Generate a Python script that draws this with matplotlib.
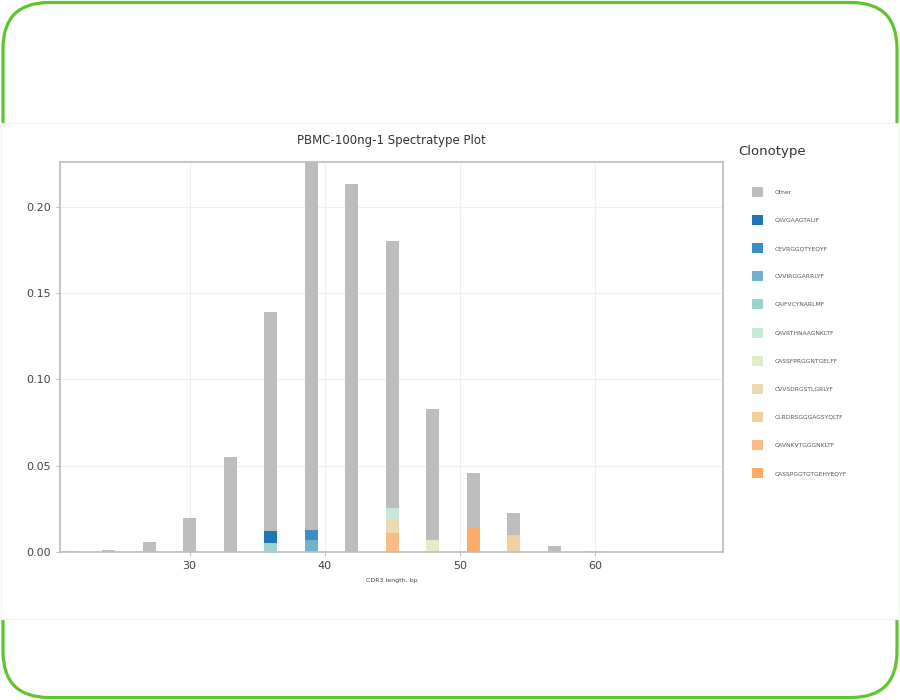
import numpy as np
import matplotlib
matplotlib.use("Agg")
import matplotlib.pyplot as plt
from matplotlib.patches import FancyBboxPatch, Rectangle

# CDR3 length (bp) bins
lengths = [21, 24, 27, 30, 33, 36, 39, 42, 45, 48, 51, 54, 57, 60]

# "Other" fraction per length bin (stacked on top of the named clonotypes)
other_frac = [0.0008, 0.001, 0.006, 0.020, 0.055, 0.127, 0.2155, 0.213,
              0.1545, 0.076, 0.0315, 0.013, 0.0035, 0.0008]

# top clonotypes, each sitting in one length bin
clone_names = [
    "CAVGAAGTALIF",
    "CEVRGGQTYEQYF",
    "CVVIRGGARRLYF",
    "CAIFVCYNARLMF",
    "CAVRTHNAAGNKLTF",
    "CASSFPRGGNTGELFF",
    "CVVSDRGSTLGRLYF",
    "CLRDRSGGGAGSYQLTF",
    "CAVNKVTGGGNKLTF",
    "CASSPGGTGTGEHYEQYF",
]
clone_lengths = [36, 39, 39, 36, 45, 48, 45, 54, 45, 51]
clone_fracs = [0.007, 0.0055, 0.007, 0.005, 0.007, 0.007, 0.0075, 0.0098, 0.011, 0.0145]

clone_colors = ["#1f77b6", "#3b8fc4", "#70b1cb", "#9fd1d1", "#c7e7d7",
                "#e2ecca", "#e8dbb2", "#f2cf9f", "#f8bc86", "#fdab6b"]
other_color = "#bdbdbd"

fig = plt.figure(figsize=(9, 7), dpi=100)

# green rounded frame + white chart band (screenshot look)
frame = FancyBboxPatch((0.03, 0.025), 8.94, 6.95,
                       boxstyle="round,pad=0,rounding_size=0.46",
                       transform=fig.dpi_scale_trans, facecolor="white",
                       edgecolor="#5ec52f", linewidth=2.3, zorder=-3)
fig.add_artist(frame)
band = Rectangle((0.012, 0.81), 8.975, 4.96, transform=fig.dpi_scale_trans,
                 facecolor="white", edgecolor="#eef6ea", linewidth=0.8, zorder=-2)
fig.add_artist(band)

ax = fig.add_axes([0.0667, 0.2114, 0.7367, 0.5571])
ax.set_facecolor("white")

bar_w = 0.95
cum = {L: 0.0 for L in lengths}
handles = {}
# bottom of the stack is the last clonotype in the legend
for i in range(len(clone_names) - 1, -1, -1):
    L = clone_lengths[i]
    h = ax.bar([L], [clone_fracs[i]], bottom=[cum[L]], width=bar_w,
               color=clone_colors[i], linewidth=0, zorder=2)
    cum[L] += clone_fracs[i]
    handles[clone_names[i]] = h

bottoms = [cum[L] for L in lengths]
h_other = ax.bar(lengths, other_frac, bottom=bottoms, width=bar_w,
                 color=other_color, linewidth=0, zorder=2)

ax.set_xlim(20.4, 69.5)
ax.set_ylim(0, 0.226)
ax.set_xticks([30, 40, 50, 60])
ax.set_yticks([0.0, 0.05, 0.10, 0.15, 0.20])
ax.set_yticklabels(["0.00", "0.05", "0.10", "0.15", "0.20"])
ax.grid(True, color="#efefef", linewidth=0.8, zorder=0)
ax.set_axisbelow(True)
for s in ax.spines.values():
    s.set_color("#bfbfbf")
    s.set_linewidth(1.3)
ax.tick_params(axis="both", colors="#bfbfbf", labelcolor="#444444",
               labelsize=8, length=3, width=0.8)

ax.set_title("PBMC-100ng-1 Spectratype Plot", fontsize=8.5, color="#333333", pad=13)
ax.set_xlabel("CDR3 length, bp", fontsize=4.5, color="#444444", labelpad=5)

leg_handles = [h_other] + [handles[n] for n in clone_names]
leg_labels = ["Other"] + clone_names
leg = ax.legend(leg_handles, leg_labels, loc="upper left",
                bbox_to_anchor=(0.833, 0.7365), bbox_transform=fig.transFigure,
                frameon=False, fontsize=4.3, handlelength=1.9, handleheight=2.2,
                labelspacing=3.04, handletextpad=1.9, borderaxespad=0)
for t in leg.get_texts():
    t.set_color("#555555")
fig.text(0.82, 0.783, "Clonotype", fontsize=9.5, color="#333333",
         ha="left", va="center")

fig.savefig("out.png", dpi=100)
